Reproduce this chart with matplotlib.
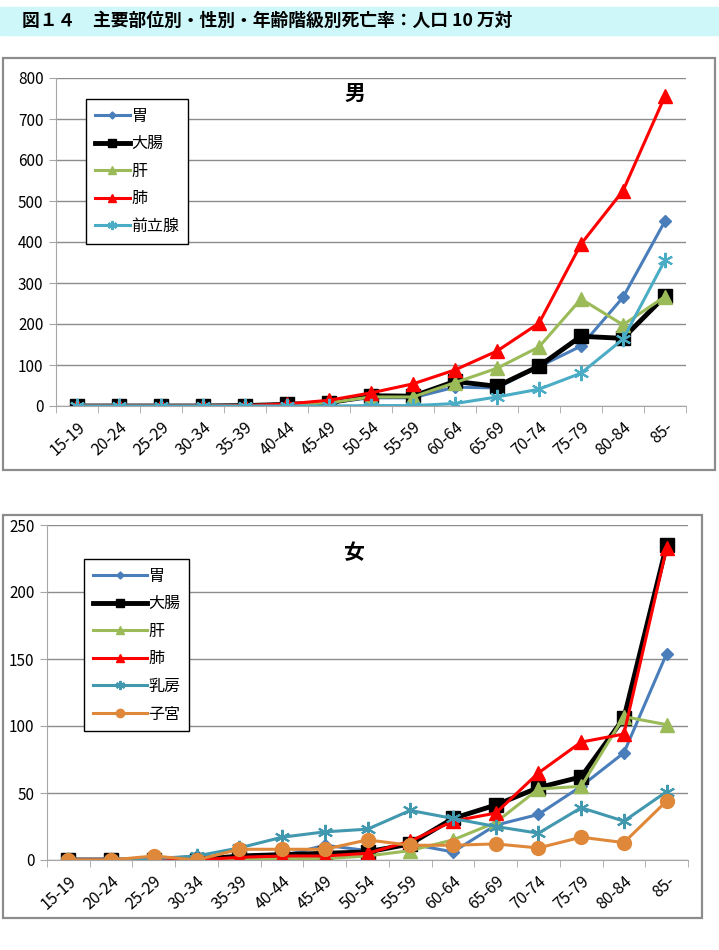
import matplotlib
matplotlib.use("Agg")
import matplotlib.pyplot as plt
from matplotlib.patches import Rectangle
from matplotlib.ticker import FixedLocator

plt.rcParams['font.family'] = ['Noto Sans CJK JP', 'DejaVu Sans']

ages = ['15-19', '20-24', '25-29', '30-34', '35-39', '40-44', '45-49', '50-54',
        '55-59', '60-64', '65-69', '70-74', '75-79', '80-84', '85-']

# 男
stomach_m = [0, 0, 0, 0, 1, 3, 8, 20, 20, 46, 44, 96, 146, 265, 451]
colorectal_m = [0, 0, 0, 0, 1, 4, 8, 25, 24, 60, 48, 97, 170, 165, 268]
liver_m = [0, 0, 0, 0, 1, 3, 8, 22, 22, 57, 92, 144, 261, 198, 267]
lung_m = [0, 0, 0, 0, 1, 5, 14, 32, 54, 88, 134, 202, 395, 525, 756]
prostate_m = [0, 0, 0, 0, 0, 0, 0, 1, 1, 6, 22, 41, 80, 163, 356]

# 女
stomach_f = [0, 0, 0, 3, 2, 3, 11, 7, 12, 6, 26, 34, 55, 80, 154]
colorectal_f = [0, 0, 0, 0, 3, 4, 5, 6, 12, 31, 41, 54, 62, 106, 235]
liver_f = [0, 0, 0, 0, 0, 1, 1, 3, 7, 15, 28, 53, 55, 107, 101]
lung_f = [0, 0, 0, 0, 2, 3, 3, 5, 14, 29, 35, 65, 88, 94, 233]
breast_f = [0, 0, 1, 3, 9, 17, 21, 23, 37, 31, 25, 20, 39, 29, 51]
uterus_f = [0, 0, 3, 0, 8, 8, 8, 15, 11, 11, 12, 9, 17, 13, 44]

W, H = 719, 950
fig = plt.figure(figsize=(W / 100, H / 100), dpi=100)


def box(x0, y0, x1, y1):
    # pixel box -> figure fraction [left, bottom, width, height]
    return [x0 / W, 1 - y1 / H, (x1 - x0) / W, (y1 - y0) / H]


# title band
fig.patches.append(Rectangle((0, 1 - 35 / H), 1, 28 / H,
                             transform=fig.transFigure, color='#cdf7f9', zorder=0))
fig.text(22 / W, 1 - 21 / H, '図１４　主要部位別・性別・年齢階級別死亡率：人口 10 万対',
         fontsize=12.8, fontweight='bold', va='center', ha='left')

# chart frames
for b in (box(3, 58, 715, 470), box(3, 515, 702, 918)):
    fig.patches.append(Rectangle(b[:2], b[2], b[3], transform=fig.transFigure,
                                 fill=False, edgecolor='#8c8c8c', lw=1.6, zorder=0))

styles = {
    '胃': dict(color='#4a7ebb', marker='D', ms=6, lw=2.2),
    '大腸': dict(color='black', marker='s', ms=10.5, lw=3.5, mec='black'),
    '肝': dict(color='#9bbb59', marker='^', ms=10, lw=2.2),
    '肺': dict(color='#ff0000', marker='^', ms=10, lw=2.2),
    '前立腺': dict(color='#4bacc6', marker=(6, 2, 0), ms=11, lw=2.2, mew=1.5),
    '乳房': dict(color='#4198af', marker=(6, 2, 0), ms=11, lw=2.2, mew=1.5),
    '子宮': dict(color='#e0883a', marker='o', ms=10, lw=2.2),
}


def draw(ax, series, ymax, step, title, title_xy, legend_xy, hlen):
    x = list(range(len(ages)))
    for name, vals in series:
        ax.plot(x, vals, label=name, **styles[name])
    ax.set_xlim(-0.5, len(ages) - 0.5)
    ax.set_ylim(0, ymax)
    ax.set_yticks(range(0, ymax + 1, step))
    ax.grid(axis='y', color='#8c8c8c', lw=1)
    ax.set_axisbelow(True)
    for s in ('top', 'right'):
        ax.spines[s].set_visible(False)
    for s in ('left', 'bottom'):
        ax.spines[s].set_color('#a6a6a6')
    ax.set_xticks(x)
    ax.set_xticklabels(ages, rotation=42, ha='right', rotation_mode='anchor', fontsize=11.5)
    ax.tick_params(axis='x', which='major', length=0, pad=9)
    ax.xaxis.set_minor_locator(FixedLocator([i - 0.5 for i in range(len(ages) + 1)]))
    ax.tick_params(axis='x', which='minor', length=5, color='#a6a6a6')
    ax.tick_params(axis='y', length=5, color='#a6a6a6', labelsize=11, pad=4)
    fig.text(title_xy[0], title_xy[1], title, fontsize=15, fontweight='bold',
             ha='center', va='center')
    leg = ax.legend(loc='upper left', bbox_to_anchor=legend_xy,
                    bbox_transform=fig.transFigure, fancybox=False, framealpha=1,
                    edgecolor='black', fontsize=11.5, handlelength=hlen,
                    labelspacing=0.66, borderpad=0.55, handletextpad=0.1,
                    borderaxespad=0, markerscale=0.6)
    leg.get_frame().set_linewidth(1.0)


ax1 = fig.add_axes(box(56, 78, 686, 406))
draw(ax1, [('胃', stomach_m), ('大腸', colorectal_m), ('肝', liver_m),
           ('肺', lung_m), ('前立腺', prostate_m)],
     800, 100, '男', (355 / W, 1 - 93 / H), (86 / W, 1 - 99 / H), 2.2)

ax2 = fig.add_axes(box(47, 525, 688, 860))
draw(ax2, [('胃', stomach_f), ('大腸', colorectal_f), ('肝', liver_f),
           ('肺', lung_f), ('乳房', breast_f), ('子宮', uterus_f)],
     250, 50, '女', (353 / W, 1 - 553 / H), (84 / W, 1 - 559 / H), 3.4)

fig.savefig('out.png', dpi=100)
